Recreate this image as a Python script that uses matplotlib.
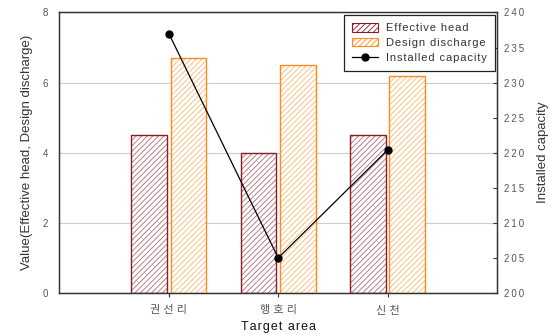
import matplotlib
matplotlib.use("Agg")
import matplotlib.pyplot as plt
import numpy as np
from matplotlib.patches import Patch
from matplotlib.lines import Line2D

categories = ["권 선 리", "행 호 리", "신 천"]
effective_head = [4.5, 4.0, 4.5]
design_discharge = [6.7, 6.5, 6.2]
installed_capacity = [237.0, 205.0, 220.4]

plt.rcParams['font.family'] = ['Liberation Sans', 'Noto Sans CJK KR', 'DejaVu Sans']
plt.rcParams['hatch.linewidth'] = 0.6

HS = "\u200a"
def spaced(s, sep=HS):
    return sep.join(list(s))

fig = plt.figure(figsize=(5.59, 3.35), dpi=100)
ax = fig.add_axes([0.1064, 0.1254, 0.7826, 0.8373])

x = np.arange(1, len(categories) + 1)
w = 0.325
off = 0.18

red_edge = "#8b1c24"
red_hatch = "#b06a72"
org_edge = "#ff8c1a"
org_hatch = "#ffb870"

ax.bar(x - off, effective_head, w, facecolor="white", edgecolor=red_hatch, hatch="//////", linewidth=0, zorder=2)
ax.bar(x - off, effective_head, w, facecolor="none", edgecolor=red_edge, linewidth=1.0, zorder=3)
ax.bar(x + off, design_discharge, w, facecolor="white", edgecolor=org_hatch, hatch="//////", linewidth=0, zorder=2)
ax.bar(x + off, design_discharge, w, facecolor="none", edgecolor=org_edge, linewidth=1.0, zorder=3)

ax.set_xlim(0, 4)
ax.set_ylim(0, 8)
ax.set_yticks([0, 2, 4, 6, 8])
ax.set_xticks(x)
ax.set_xticklabels(categories)
ax.yaxis.grid(True, color="#cccccc", linewidth=0.8, zorder=0)
ax.set_axisbelow(True)
ax.tick_params(axis='y', length=0, labelsize=7, labelcolor="#555555", pad=8)
ax.tick_params(axis='x', length=3, direction='out', labelsize=8, labelcolor="#555555", pad=6, color="#333333")
for s in ax.spines.values():
    s.set_linewidth(0.9)
    s.set_color("#333333")
ax.set_xlabel(spaced("Target area"), fontsize=9, color="#111111", labelpad=4)
ax.set_ylabel("Value(Effective head, Design discharge)", fontsize=9.5, color="#333333", labelpad=7)

ax2 = ax.twinx()
ax2.plot(x, installed_capacity, color="black", linewidth=0.9, marker="o", markersize=5, zorder=5)
ax2.set_ylim(200, 240)
ax2.set_yticks(np.arange(200, 241, 5))
ax2.set_yticklabels([spaced(str(v), "\u2009") for v in range(200, 241, 5)])
ax2.tick_params(axis='y', length=3, direction='in', labelsize=7, labelcolor="#555555", pad=5, color="#333333")
for s in ax2.spines.values():
    s.set_linewidth(0.9)
    s.set_color("#333333")
ax2.set_ylabel("Installed capacity", fontsize=9.5, color="#333333", labelpad=9)

handles = [
    Patch(facecolor="white", edgecolor=red_edge, hatch="//////", linewidth=0.8),
    Patch(facecolor="white", edgecolor=org_edge, hatch="//////", linewidth=0.8),
    Line2D([], [], color="black", linewidth=0.9, marker="o", markersize=5),
]
labels = [spaced("Effective head"), spaced("Design discharge"), spaced("Installed capacity")]
leg = ax2.legend(handles, labels, loc="upper right", bbox_to_anchor=(0.9954, 0.991), borderaxespad=0,
                 fontsize=8, frameon=True, fancybox=False, edgecolor="#222222", framealpha=1,
                 handlelength=2.3, handleheight=0.75, labelspacing=0.42, borderpad=0.75, handletextpad=0.7)
leg.get_frame().set_linewidth(0.9)
for t in leg.get_texts():
    t.set_color("#333333")

fig.savefig("out.png", dpi=100)
